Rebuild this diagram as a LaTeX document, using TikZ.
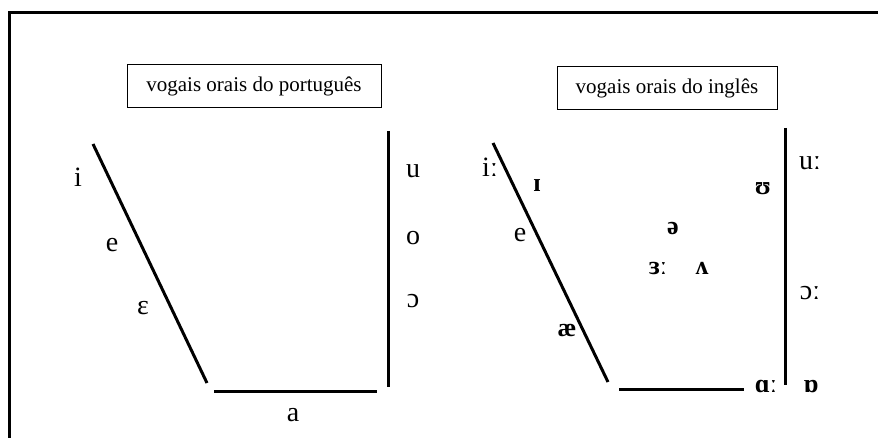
\documentclass[tikz,border=0pt]{standalone}
\usepackage{fontspec}
\setmainfont{Liberation Serif}

\tikzset{
  vowel/.style={anchor=base, inner sep=0pt, font=\fontsize{28}{30}\selectfont},
  bvowel/.style={vowel, font=\fontsize{26}{28}\selectfont\bfseries},
  titlebox/.style={draw, line width=1pt, minimum width=#1, minimum height=43, inner sep=0pt, font=\fontsize{21}{23}\selectfont},
  chartline/.style={line width=3pt}
}

\begin{document}
\begin{tikzpicture}[x=1pt, y=-1pt]
\useasboundingbox (0,0) rectangle (878,438);
\clip (0,0) rectangle (878,438);
\draw[line width=3pt] (9,13) rectangle (960,480);

% portugues
\node[titlebox=254] (ptitle) at (254,86) {vogais orais do português};
\coordinate (pA) at (93,144);
\coordinate (pB) at (207,383);
\coordinate (pC) at (214,391);
\coordinate (pD) at (377,391);
\coordinate (pE) at (388,131);
\coordinate (pF) at (388,387);
\draw[chartline] (pA) -- (pB);
\draw[chartline] (pC) -- (pD);
\draw[chartline] (pE) -- (pF);

\node[vowel] (pi) at (78,187) {i};
\node[vowel] (pe) at (112,252) {e};
\node[vowel] (peps) at (143,315) {ɛ};
\node[vowel] (pa) at (293,421) {a};
\node[vowel] (pu) at (413,178) {u};
\node[vowel] (po) at (413,245) {o};
\node[vowel] (popen) at (413,308) {ɔ};

% ingles
\node[titlebox=220] (etitle) at (667,88) {vogais orais do inglês};
\coordinate (eA) at (493,143);
\coordinate (eB) at (608,382);
\coordinate (eC) at (619,389);
\coordinate (eD) at (744,389);
\coordinate (eE) at (785,128);
\coordinate (eF) at (785,385);
\draw[chartline] (eA) -- (eB);
\draw[chartline] (eC) -- (eD);
\draw[chartline] (eE) -- (eF);

\node[vowel] (ei) at (490,177) {iː};
\node[bvowel] (eI) at (537,192) {ɪ};
\node[vowel] (ee) at (520,242) {e};
\node[bvowel] (eae) at (567,337) {æ};
\node[bvowel] (eU) at (763,195) {ʊ};
\node[bvowel] (eschwa) at (673,235) {ə};
\node[bvowel] (eer) at (658,275) {ɜː};
\node[bvowel] (ewedge) at (702,275) {ʌ};
\node[vowel] (eu) at (810,170) {uː};
\node[vowel] (eopen) at (810,300) {ɔː};
\node[bvowel] (eaa) at (766,392) {ɑː};
\node[bvowel] (eo) at (811,392) {ɒ};
\end{tikzpicture}
\end{document}
